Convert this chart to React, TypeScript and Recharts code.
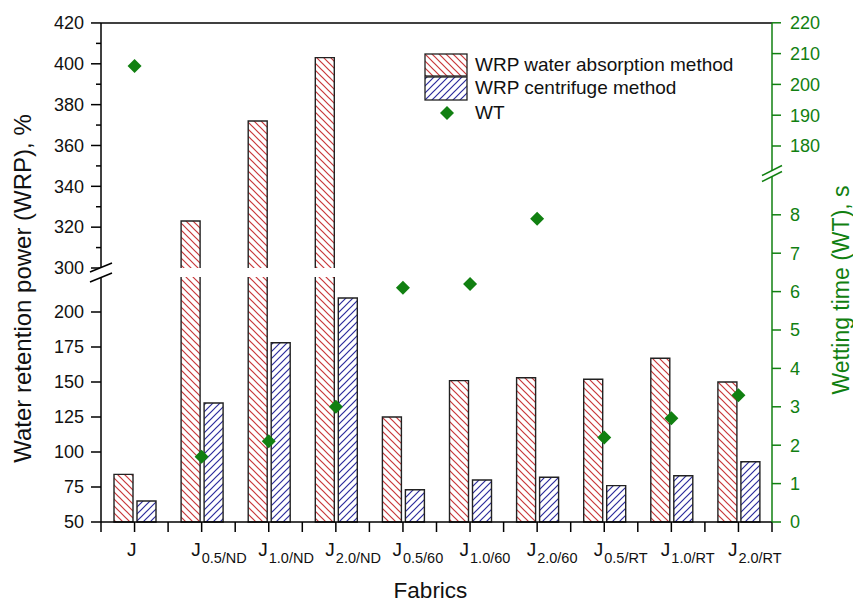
import React from "react";
import { ComposedChart, Bar, Scatter, XAxis, YAxis, ReferenceArea, ReferenceLine } from "recharts";

const fabrics = ["J", "J0.5/ND", "J1.0/ND", "J2.0/ND", "J0.5/60", "J1.0/60", "J2.0/60", "J0.5/RT", "J1.0/RT", "J2.0/RT"];
const wrpAbsorption = [84, 323, 372, 403, 125, 151, 153, 152, 167, 150];
const wrpCentrifuge = [65, 135, 178, 210, 73, 80, 82, 76, 83, 93];
const wettingTime = [206, 1.7, 2.1, 3.0, 6.1, 6.2, 7.9, 2.2, 2.7, 3.3];

const wrpTicksLow = [50, 75, 100, 125, 150, 175, 200];
const wrpTicksHigh = [300, 320, 340, 360, 380, 400, 420];
const wrpMinorHigh = [310, 330, 350, 370, 390, 410];
const wtTicksLow = [0, 1, 2, 3, 4, 5, 6, 7, 8];
const wtTicksHigh = [180, 190, 200, 210, 220];

const seriesNames = ["WRP water absorption method", "WRP centrifuge method", "WT"];

const FONT = "'Liberation Sans', Arial, sans-serif";
const GREEN = "#118011";
const RED_LINE = "#c8373a";
const BLUE_LINE = "#2b2b9c";

// both y axes are broken, so values go through a piecewise map into plot units
const PLOT_H = 499;
const wrpPos = (v: number) => (v <= 260 ? (v - 50) * 1.4 : 254 + (v - 300) * 2.042);
const wtPos = (v: number) => (v <= 100 ? v * 38.4 : 376 + (v - 180) * 3.08);
const WRP_GAP = [225, 300];
const WRP_BREAK = (wrpPos(WRP_GAP[0]) + wrpPos(WRP_GAP[1])) / 2;
const WT_BREAK = (wtPos(9) + wtPos(172)) / 2;

const data = fabrics.map((f, i) => ({
  fabric: f,
  absorption: wrpPos(wrpAbsorption[i]),
  centrifuge: wrpPos(wrpCentrifuge[i]),
  wt: wtPos(wettingTime[i]),
}));

type TickDef = { pos: number; label: string; kind: "major" | "minor" | "break" };

const leftTicks: TickDef[] = [
  ...wrpTicksLow.map((v) => ({ pos: wrpPos(v), label: String(v), kind: "major" as const })),
  ...wrpTicksHigh.map((v) => ({ pos: wrpPos(v), label: String(v), kind: "major" as const })),
  ...wrpMinorHigh.map((v) => ({ pos: wrpPos(v), label: "", kind: "minor" as const })),
  { pos: WRP_BREAK, label: "", kind: "break" },
];

const rightTicks: TickDef[] = [
  ...wtTicksLow.map((v) => ({ pos: wtPos(v), label: String(v), kind: "major" as const })),
  ...wtTicksHigh.map((v) => ({ pos: wtPos(v), label: String(v), kind: "major" as const })),
  { pos: WT_BREAK, label: "", kind: "break" },
];

const findTick = (list: TickDef[], value: number) => list.find((t) => Math.abs(t.pos - value) < 1e-6);

function LeftTick(props: any) {
  const { x, y, payload } = props;
  const t = findTick(leftTicks, payload.value);
  if (!t) return null;
  if (t.kind === "break") {
    return (
      <g>
        <polygon points={`${x - 11},${y - 0.5} ${x + 11},${y - 9.5} ${x + 11},${y + 0.5} ${x - 11},${y + 9.5}`} fill="#fff" />
        <line x1={x - 11} y1={y - 0.5} x2={x + 11} y2={y - 9.5} stroke="#000" strokeWidth={1.5} />
        <line x1={x - 11} y1={y + 9.5} x2={x + 11} y2={y + 0.5} stroke="#000" strokeWidth={1.5} />
      </g>
    );
  }
  const len = t.kind === "major" ? 10 : 5;
  return (
    <g>
      <line x1={x - len} y1={y} x2={x} y2={y} stroke="#000" strokeWidth={1.5} />
      {t.label && (
        <text x={x - 17} y={y} dy="0.35em" textAnchor="end" fontSize={18} fontFamily={FONT} fill="#111">
          {t.label}
        </text>
      )}
    </g>
  );
}

function RightTick(props: any) {
  const { x, y, payload } = props;
  const t = findTick(rightTicks, payload.value);
  if (!t) return null;
  if (t.kind === "break") {
    return (
      <g>
        <polygon points={`${x - 10},${y + 2} ${x + 10},${y - 8} ${x + 10},${y - 2} ${x - 10},${y + 8}`} fill="#fff" />
        <line x1={x - 10} y1={y + 2} x2={x + 10} y2={y - 8} stroke={GREEN} strokeWidth={1.5} />
        <line x1={x - 10} y1={y + 8} x2={x + 10} y2={y - 2} stroke={GREEN} strokeWidth={1.5} />
      </g>
    );
  }
  return (
    <g>
      <line x1={x} y1={y} x2={x + 9} y2={y} stroke={GREEN} strokeWidth={1.5} />
      <text x={x + 18} y={y} dy="0.35em" textAnchor="start" fontSize={18} fontFamily={FONT} fill={GREEN}>
        {t.label}
      </text>
    </g>
  );
}

function FabricTick(props: any) {
  const { x, y, payload, index } = props;
  const half = payload.offset || 33.5;
  const name: string = payload.value;
  const sub = name.slice(1);
  return (
    <g>
      <line x1={x} y1={y} x2={x} y2={y + 10} stroke="#000" strokeWidth={1.5} />
      <line x1={x - half} y1={y} x2={x - half} y2={y + 10} stroke="#000" strokeWidth={1.5} />
      {index === fabrics.length - 1 && (
        <line x1={x + half} y1={y} x2={x + half} y2={y + 10} stroke="#000" strokeWidth={1.5} />
      )}
      <text x={sub ? x - 1 : x + 2} y={y + 34} textAnchor="end" fontSize={19} fontFamily={FONT} fill="#111">
        {name.charAt(0)}
      </text>
      {sub && (
        <text x={x} y={y + 41} textAnchor="start" fontSize={14.5} fontFamily={FONT} fill="#111">
          {sub}
        </text>
      )}
    </g>
  );
}

function Diamond(props: any) {
  const { cx, cy } = props;
  if (cx == null || cy == null) return null;
  return <polygon points={`${cx},${cy - 7} ${cx + 7},${cy} ${cx},${cy + 7} ${cx - 7},${cy}`} fill={GREEN} />;
}

const axisTitle = (text: string, side: "left" | "right" | "bottom") => (p: any) => {
  const vb = p.viewBox || {};
  if (side === "bottom") {
    const cx = (vb.x ?? 101) + (vb.width ?? 671) / 2 - 6;
    return (
      <text x={cx} y={(vb.y ?? 522) + 76} textAnchor="middle" fontSize={22.5} fontFamily={FONT} fill="#111">
        {text}
      </text>
    );
  }
  const cy = (vb.y ?? 23) + (vb.height ?? PLOT_H) / 2 + (side === "left" ? 16 : 17.5);
  const x = side === "left" ? (vb.x ?? 0) + 31 : (vb.x ?? 772) + 77;
  return (
    <text
      x={x}
      y={cy}
      transform={`rotate(-90, ${x}, ${cy})`}
      textAnchor="middle"
      fontSize={side === "left" ? 24 : 23}
      fontFamily={FONT}
      fill={side === "left" ? "#111" : GREEN}
    >
      {text}
    </text>
  );
};

function LegendOverlay() {
  return (
    <svg width={853} height={602} style={{ position: "absolute", left: 0, top: 0, pointerEvents: "none" }}>
      <rect x={425} y={54} width={42} height={22} fill="url(#hatchRed)" stroke="#222" strokeWidth={1.3} />
      <rect x={425} y={77} width={42} height={23} fill="url(#hatchBlue)" stroke="#222" strokeWidth={1.3} />
      <polygon points="447,106 454,113 447,120 440,113" fill={GREEN} />
      {seriesNames.map((n, i) => (
        <text key={n} x={475} y={[71, 94, 119][i]} fontSize={19} fontFamily={FONT} fill="#111">
          {n}
        </text>
      ))}
    </svg>
  );
}

export default function App() {
  return (
    <div style={{ position: "fixed", left: 0, top: 0, width: 853, height: 602, background: "#fff" }}>
      <ComposedChart
        width={853}
        height={602}
        data={data}
        margin={{ top: 23, right: 0, bottom: 0, left: 0 }}
        barSize={19}
        barGap={4}
      >
        <defs>
          <pattern id="hatchRed" width={7} height={7} patternUnits="userSpaceOnUse">
            <rect width={7} height={7} fill="#fff" />
            <path d="M0,0 L7,7 M-1,6 L1,8 M6,-1 L8,1" stroke={RED_LINE} strokeWidth={1.2} />
          </pattern>
          <pattern id="hatchBlue" width={7} height={7} patternUnits="userSpaceOnUse">
            <rect width={7} height={7} fill="#fff" />
            <path d="M0,7 L7,0 M-1,1 L1,-1 M6,8 L8,6" stroke={BLUE_LINE} strokeWidth={1.2} />
          </pattern>
        </defs>
        <Bar yAxisId="left" dataKey="absorption" name={seriesNames[0]} fill="url(#hatchRed)" stroke="#222" strokeWidth={1.4} isAnimationActive={false} />
        <Bar yAxisId="left" dataKey="centrifuge" name={seriesNames[1]} fill="url(#hatchBlue)" stroke="#222" strokeWidth={1.4} isAnimationActive={false} />
        <ReferenceArea yAxisId="left" y1={wrpPos(WRP_GAP[0])} y2={wrpPos(WRP_GAP[1])} fill="#fff" fillOpacity={1} stroke="none" zIndex={350} />
        <ReferenceLine yAxisId="left" y={PLOT_H} stroke="#000" strokeWidth={1.5} />
        <XAxis
          dataKey="fabric"
          height={80}
          interval={0}
          tickSize={0}
          tickMargin={0}
          tickLine={false}
          axisLine={{ stroke: "#000", strokeWidth: 1.5 }}
          tick={(p: any) => <FabricTick {...p} />}
          label={{ content: axisTitle("Fabrics", "bottom") }}
        />
        <YAxis
          yAxisId="left"
          width={101}
          domain={[0, PLOT_H]}
          ticks={leftTicks.map((t) => t.pos)}
          interval={0}
          tickSize={0}
          tickMargin={0}
          tickLine={false}
          axisLine={{ stroke: "#000", strokeWidth: 1.5 }}
          tick={(p: any) => <LeftTick {...p} />}
          label={{ content: axisTitle("Water retention power (WRP), %", "left") }}
        />
        <YAxis
          yAxisId="right"
          orientation="right"
          width={81}
          domain={[0, PLOT_H]}
          ticks={rightTicks.map((t) => t.pos)}
          interval={0}
          tickSize={0}
          tickMargin={0}
          tickLine={false}
          axisLine={{ stroke: GREEN, strokeWidth: 1.5 }}
          tick={(p: any) => <RightTick {...p} />}
          label={{ content: axisTitle("Wetting time (WT), s", "right") }}
        />
        <Scatter yAxisId="right" dataKey="wt" name={seriesNames[2]} fill={GREEN} shape={(p: any) => <Diamond {...p} />} isAnimationActive={false} />
      </ComposedChart>
      <LegendOverlay />
    </div>
  );
}
